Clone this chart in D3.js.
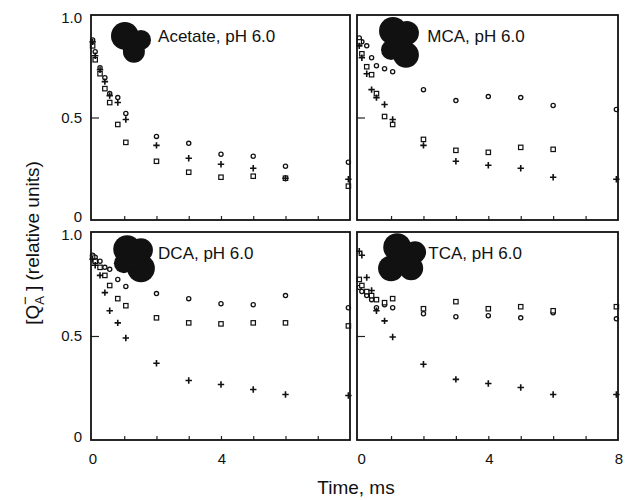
<!DOCTYPE html>
<html>
<head>
<meta charset="utf-8">
<script src="https://cdn.jsdelivr.net/npm/d3@7"></script>
<style>
  body { margin: 0; background: #fff; }
  svg { display: block; font-family: "Liberation Sans", Arial, sans-serif; }
</style>
</head>
<body>
<div id="chartContainer"></div>
<script>
// Chart size
const w = 625;
const h = 500;

// Sampling times (ms), shared by every panel
const times = [0.02, 0.1, 0.25, 0.4, 0.55, 0.8, 1.05, 2, 3, 4, 5, 6, 7.95];

// Panel titles
const panelNames = ["Acetate, pH 6.0", "MCA, pH 6.0", "DCA, pH 6.0", "TCA, pH 6.0"];

// [QA-] values (circle / plus / square series)
const acetateCircle = [0.89, 0.83, 0.75, 0.70, 0.62, 0.60, 0.52, 0.405, 0.37, 0.315, 0.305, 0.255, 0.275];
const acetatePlus   = [0.88, 0.81, 0.74, 0.68, 0.61, 0.575, 0.49, 0.36, 0.295, 0.265, 0.245, 0.195, 0.19];
const acetateSquare = [0.86, 0.79, 0.72, 0.645, 0.575, 0.465, 0.375, 0.28, 0.225, 0.20, 0.205, 0.195, 0.155];

const mcaCircle = [0.90, 0.88, 0.86, 0.80, 0.76, 0.745, 0.73, 0.64, 0.585, 0.605, 0.60, 0.56, 0.54];
const mcaPlus   = [0.86, 0.80, 0.72, 0.64, 0.60, 0.565, 0.49, 0.36, 0.28, 0.26, 0.245, 0.20, 0.19];
const mcaSquare = [0.88, 0.82, 0.755, 0.715, 0.62, 0.505, 0.465, 0.39, 0.335, 0.325, 0.35, 0.34, null];

const dcaCircle = [0.90, 0.89, 0.87, 0.84, 0.83, 0.78, 0.745, 0.71, 0.685, 0.66, 0.655, 0.70, 0.64];
const dcaPlus   = [0.88, 0.85, 0.80, 0.715, 0.625, 0.565, 0.49, 0.365, 0.28, 0.26, 0.235, 0.21, 0.205];
const dcaSquare = [0.89, 0.87, 0.84, 0.80, 0.75, 0.685, 0.65, 0.59, 0.565, 0.56, 0.565, 0.565, 0.55];

const tcaCircle = [0.74, 0.72, 0.70, 0.68, 0.64, 0.655, 0.64, 0.61, 0.595, 0.60, 0.59, 0.615, 0.585];
const tcaPlus   = [0.92, 0.90, 0.79, 0.725, 0.625, 0.575, 0.495, 0.36, 0.285, 0.265, 0.245, 0.21, 0.21];
const tcaSquare = [0.78, 0.75, 0.72, 0.70, 0.68, 0.665, 0.685, 0.635, 0.67, 0.635, 0.645, 0.625, 0.645];

// Tick labels
const yTickLabels = [0, 0.5, 1.0];
const xTickLabels = [0, 4, 8];

// Space-filling molecule drawings, atoms as [t, value, radius in ms]
const acetateAtoms = [[1.02, 0.91, 0.43], [1.52, 0.89, 0.31], [1.30, 0.83, 0.34], [1.24, 0.88, 0.37]];
const mcaAtoms = [[1.06, 0.935, 0.43], [1.49, 0.925, 0.37], [1.46, 0.815, 0.40], [1.0, 0.84, 0.31], [1.25, 0.88, 0.40]];
const dcaAtoms = [[1.09, 0.93, 0.43], [1.52, 0.925, 0.37], [1.52, 0.835, 0.43], [0.99, 0.86, 0.31], [1.27, 0.885, 0.40]];
const tcaAtoms = [[1.19, 0.94, 0.43], [1.74, 0.915, 0.34], [1.0, 0.835, 0.40], [1.62, 0.835, 0.37], [1.34, 0.885, 0.40]];

const panels = [
  { name: panelNames[0], circle: acetateCircle, plus: acetatePlus, square: acetateSquare, atoms: acetateAtoms,
    x0: 91, x1: 350, y0: 15, y1: 220, xDom: [-0.03, 8], titleT: 2.05 },
  { name: panelNames[1], circle: mcaCircle, plus: mcaPlus, square: mcaSquare, atoms: mcaAtoms,
    x0: 357, x1: 618, y0: 15, y1: 220, xDom: [-0.05, 8], titleT: 2.12 },
  { name: panelNames[2], circle: dcaCircle, plus: dcaPlus, square: dcaSquare, atoms: dcaAtoms,
    x0: 91, x1: 350, y0: 232, y1: 440, xDom: [-0.03, 8], titleT: 2.05, bottom: true },
  { name: panelNames[3], circle: tcaCircle, plus: tcaPlus, square: tcaSquare, atoms: tcaAtoms,
    x0: 357, x1: 618, y0: 232, y1: 440, xDom: [-0.05, 8], titleT: 2.15, bottom: true }
];

const svg = d3.select("#chartContainer")
  .append("svg")
    .attr("width", w)
    .attr("height", h);

svg.append("rect").attr("width", w).attr("height", h).attr("fill", "#fff");

panels.forEach((p, i) => {
  const xScale = d3.scaleLinear().domain(p.xDom).range([p.x0, p.x1]);
  const yScale = d3.scaleLinear().domain([-0.015, 1.015]).range([p.y1, p.y0]);

  const g = svg.append("g").attr("class", "panel");

  // molecule blob
  g.selectAll(".atom")
    .data(p.atoms)
    .enter()
    .append("circle")
      .attr("cx", d => xScale(d[0]))
      .attr("cy", d => yScale(d[1]))
      .attr("r", d => xScale(d[2]) - xScale(0))
      .attr("fill", "#111");

  // panel title
  g.append("text")
    .attr("x", xScale(p.titleT))
    .attr("y", yScale(0.88))
    .attr("font-size", 17)
    .attr("fill", "#111")
    .text(p.name);

  // minor x ticks (inside, at every ms)
  g.append("g")
    .attr("transform", `translate(0, ${p.y1})`)
    .call(d3.axisTop(xScale).tickValues(d3.range(1, 8)).tickSize(4).tickFormat(""))
    .call(a => a.select(".domain").remove())
    .call(a => a.selectAll("line").attr("stroke", "#222").attr("stroke-width", 1.2));

  // y tick at 0.5 (inside)
  g.append("g")
    .attr("transform", `translate(${p.x0}, 0)`)
    .call(d3.axisRight(yScale).tickValues([0.5]).tickSize(8).tickFormat(""))
    .call(a => a.select(".domain").remove())
    .call(a => a.selectAll("line").attr("stroke", "#222").attr("stroke-width", 1.2));

  // y tick labels on the left column only
  if (i % 2 === 0) {
    g.selectAll(".ylab")
      .data(yTickLabels)
      .enter()
      .append("text")
        .attr("x", p.x0 - 9)
        .attr("y", d => yScale(d))
        .attr("dy", "0.36em")
        .attr("text-anchor", "end")
        .attr("font-size", 15)
        .attr("fill", "#111")
        .text(d => d === 0 ? "0" : d3.format(".1f")(d));
  }

  // x tick labels under the bottom row
  if (p.bottom) {
    g.selectAll(".xlab")
      .data(i === 2 ? xTickLabels.slice(0, 2) : xTickLabels)
      .enter()
      .append("text")
        .attr("x", d => xScale(d) + (d === 0 && i === 3 ? 3 : 1))
        .attr("y", p.y1 + 24)
        .attr("text-anchor", "middle")
        .attr("font-size", 15)
        .attr("fill", "#111")
        .text(d => d);
  }

  // series points
  const pts = s => times.map((t, k) => ({ t, v: s[k] })).filter(d => d.v != null);

  g.selectAll(".pt-circle")
    .data(pts(p.circle))
    .enter()
    .append("circle")
      .attr("cx", d => xScale(d.t))
      .attr("cy", d => yScale(d.v))
      .attr("r", 2.1)
      .attr("fill", "#fff")
      .attr("stroke", "#111")
      .attr("stroke-width", 1.3);

  g.selectAll(".pt-square")
    .data(pts(p.square))
    .enter()
    .append("rect")
      .attr("x", d => xScale(d.t) - 2.2)
      .attr("y", d => yScale(d.v) - 2.2)
      .attr("width", 4.4)
      .attr("height", 4.4)
      .attr("fill", "#fff")
      .attr("stroke", "#111")
      .attr("stroke-width", 1.2);

  g.selectAll(".pt-plus")
    .data(pts(p.plus))
    .enter()
    .append("path")
      .attr("d", d => {
        const cx = xScale(d.t), cy = yScale(d.v);
        return `M${cx - 3.2},${cy}H${cx + 3.2}M${cx},${cy - 3.2}V${cy + 3.2}`;
      })
      .attr("stroke", "#111")
      .attr("stroke-width", 1.6);

  // frame
  g.append("rect")
    .attr("x", p.x0)
    .attr("y", p.y0)
    .attr("width", p.x1 - p.x0)
    .attr("height", p.y1 - p.y0)
    .attr("fill", "none")
    .attr("stroke", "#111")
    .attr("stroke-width", 1.8);
});

// Axis titles
svg.append("text")
  .attr("x", 356)
  .attr("y", 494)
  .attr("text-anchor", "middle")
  .attr("font-size", 19)
  .attr("fill", "#111")
  .text("Time, ms");

const yTitle = svg.append("text")
  .attr("transform", "translate(39, 243) rotate(-90)")
  .attr("text-anchor", "middle")
  .attr("font-size", 19)
  .attr("fill", "#111");
yTitle.append("tspan").text("[Q");
yTitle.append("tspan").attr("font-size", 13).attr("dy", 5).text("A");
yTitle.append("tspan").attr("font-size", 15).attr("dx", -9).attr("dy", -14).text("−");
yTitle.append("tspan").attr("dy", 9).text(" ] (relative units)");
</script>
</body>
</html>
